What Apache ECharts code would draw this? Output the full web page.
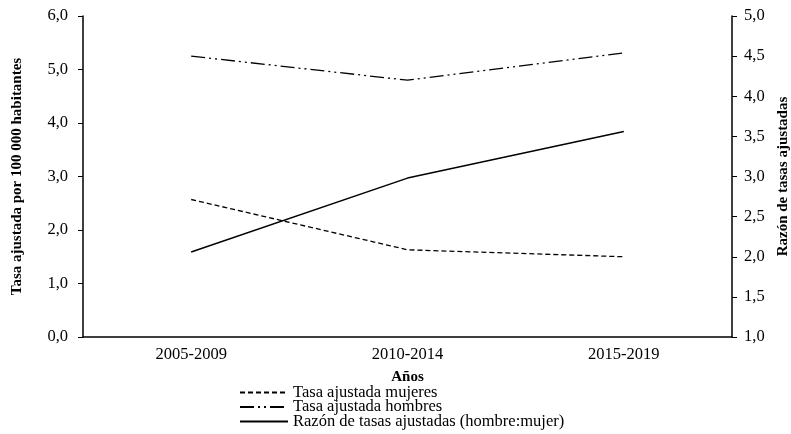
<!DOCTYPE html>
<html>
<head>
<meta charset="utf-8">
<script src="https://cdn.jsdelivr.net/npm/echarts@6/dist/echarts.min.js"></script>
<style>
  html, body { margin: 0; padding: 0; background: #fff; }
  #chart { width: 791px; height: 434px; }
</style>
</head>
<body>
<div id="chart"></div>
<script>
var periodos = ["2005-2009", "2010-2014", "2015-2019"];
var tasaMujeres = [2.57, 1.63, 1.5];
var tasaHombres = [5.25, 4.8, 5.31];
var razonTasas = [2.06, 2.98, 3.56];
var nombresSeries = [
  "Tasa ajustada mujeres",
  "Tasa ajustada hombres",
  "Razón de tasas ajustadas (hombre:mujer)",
];

var fuente = "Liberation Serif";
var coma = function (v) {
  return v.toFixed(1).replace(".", ",");
};

var grafico = echarts.init(document.getElementById("chart"));

// una leyenda por fila, para que no se reparta en columnas
var leyendas = nombresSeries.map(function (nombre, i) {
  return {
    orient: "vertical",
    left: 239,
    top: 384 + i * 14.5,
    itemWidth: 48,
    itemHeight: 10,
    itemGap: 0,
    padding: 0,
    itemStyle: { opacity: 0, borderWidth: 0 },
    textStyle: { fontFamily: fuente, fontSize: 16.5, color: "#000" },
    data: [nombre],
  };
});

var opcion = {
  animation: false,
  backgroundColor: "#fff",
  textStyle: { fontFamily: fuente, color: "#000" },
  grid: { left: 83, right: 59, top: 16, bottom: 97, outerBoundsMode: "none", containLabel: false },
  legend: leyendas,
  xAxis: {
    type: "category",
    data: periodos,
    boundaryGap: true,
    name: "Años",
    nameLocation: "middle",
    nameGap: 33,
    nameTextStyle: { fontFamily: fuente, fontSize: 15, fontWeight: "bold", color: "#000" },
    axisLine: { lineStyle: { color: "#000", width: 1.5 } },
    axisTick: { length: 5, lineStyle: { color: "#000", width: 1.5 } },
    axisLabel: { fontFamily: fuente, fontSize: 16.5, color: "#000", margin: 9 },
  },
  yAxis: [
    {
      type: "value",
      min: 0,
      max: 6,
      interval: 1,
      name: "Tasa ajustada por 100 000 habitantes",
      nameLocation: "middle",
      nameGap: 58,
      nameTextStyle: { fontFamily: fuente, fontSize: 15, fontWeight: "bold", color: "#000" },
      axisLine: { show: true, lineStyle: { color: "#000", width: 1.5 } },
      axisTick: { show: true, length: 5, lineStyle: { color: "#000", width: 1 } },
      axisLabel: { fontFamily: fuente, fontSize: 16.5, color: "#000", margin: 15, formatter: coma },
      splitLine: { show: false },
    },
    {
      type: "value",
      position: "right",
      min: 1,
      max: 5,
      interval: 0.5,
      name: "Razón de tasas ajustadas",
      nameLocation: "middle",
      nameGap: 37,
      nameTextStyle: { fontFamily: fuente, fontSize: 15, fontWeight: "bold", color: "#000" },
      axisLine: { show: true, lineStyle: { color: "#000", width: 1.5 } },
      axisTick: { show: true, length: 5, lineStyle: { color: "#000", width: 1 } },
      axisLabel: { fontFamily: fuente, fontSize: 16.5, color: "#000", margin: 12, formatter: coma },
      splitLine: { show: false },
    },
  ],
  series: [
    {
      name: nombresSeries[0],
      type: "line",
      yAxisIndex: 0,
      data: tasaMujeres,
      symbol: "none",
      lineStyle: { color: "#000", width: 1.3, type: [5, 3] },
      itemStyle: { color: "#000" },
    },
    {
      name: nombresSeries[1],
      type: "line",
      yAxisIndex: 0,
      data: tasaHombres,
      symbol: "none",
      lineStyle: { color: "#000", width: 1.3, type: [14, 4, 2, 4, 2, 4] },
      itemStyle: { color: "#000" },
    },
    {
      name: nombresSeries[2],
      type: "line",
      yAxisIndex: 1,
      data: razonTasas,
      symbol: "none",
      lineStyle: { color: "#000", width: 1.5 },
      itemStyle: { color: "#000" },
    },
  ],
};

grafico.setOption(opcion);
</script>
</body>
</html>
